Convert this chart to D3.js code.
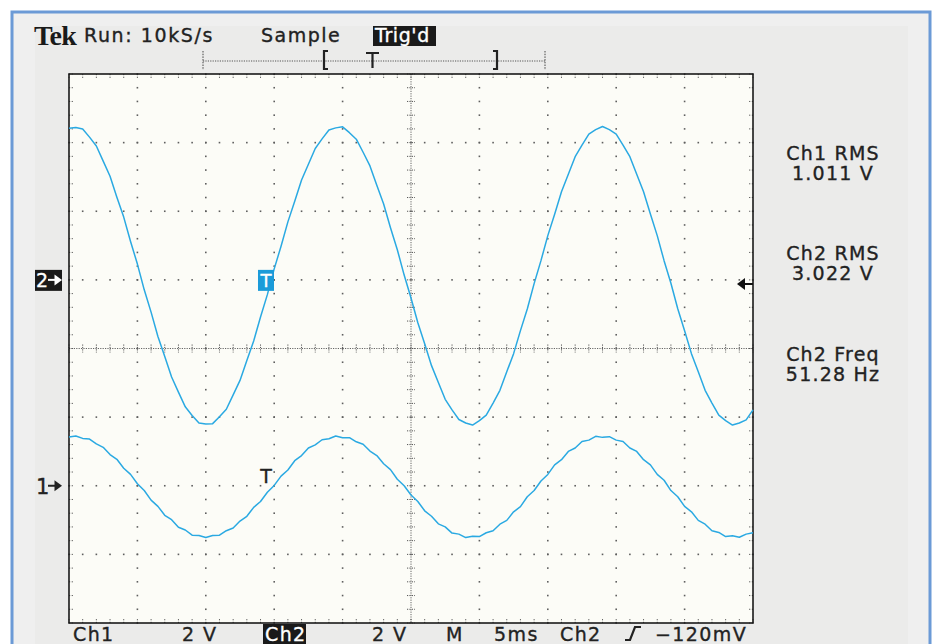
<!DOCTYPE html>
<html>
<head>
<meta charset="utf-8">
<script src="https://cdn.jsdelivr.net/npm/d3@7"></script>
<style>
  html, body { margin: 0; padding: 0; background: #ffffff; }
  svg { display: block; }
  text { font-family: "DejaVu Sans", Verdana, sans-serif; fill: #222; stroke: #222; stroke-width: 0.35px; }
  text.inv { fill: #fff; stroke: #fff; }
</style>
</head>
<body>
<svg width="936" height="644"></svg>
<script>
// ---------------------------------------------------------
// Scope settings and readouts
const msPerDiv = 5;
const voltsPerDiv = 2;
const sampleStepMs = 0.5;
const ch1GroundDiv = -2;
const ch2GroundDiv = 1;
const trigLevelV = -0.12;
const trigTimeMs = 14.4;

// ---------------------------------------------------------
// Traces (volts, one value every 0.5 ms)
const ch2Volts = [
  4.42, 4.44, 4.40, 4.16, 3.90, 3.46, 3.02, 2.41, 1.83, 1.12,
  0.46, -0.29, -0.94, -1.65, -2.23, -2.83, -3.27, -3.70, -3.95, -4.17,
  -4.20, -4.19, -3.99, -3.77, -3.35, -2.93, -2.35, -1.78, -1.08, -0.43,
  0.32, 0.98, 1.69, 2.29, 2.91, 3.37, 3.83, 4.11, 4.37, 4.43,
  4.46, 4.29, 4.10, 3.72, 3.32, 2.76, 2.21, 1.52, 0.88, 0.14,
  -0.53, -1.25, -1.86, -2.50, -2.99, -3.48, -3.79, -4.07, -4.17, -4.23,
  -4.10, -3.94, -3.59, -3.22, -2.68, -2.15, -1.48, -0.85, -0.11, 0.56,
  1.29, 1.91, 2.57, 3.08, 3.59, 3.93, 4.25, 4.38, 4.47, 4.38,
  4.25, 3.93, 3.59, 3.08, 2.57, 1.92, 1.29, 0.56, -0.10, -0.84,
  -1.48, -2.15, -2.68, -3.22, -3.59, -3.94, -4.10, -4.23, -4.17, -4.08,
  -3.79
];
const ch1Volts = [
  1.42, 1.45, 1.38, 1.36, 1.22, 1.12, 0.91, 0.77, 0.51, 0.33,
  0.06, -0.14, -0.42, -0.60, -0.86, -0.99, -1.21, -1.29, -1.44, -1.45,
  -1.51, -1.45, -1.44, -1.31, -1.23, -1.03, -0.89, -0.63, -0.46, -0.19,
  0.01, 0.28, 0.46, 0.73, 0.88, 1.10, 1.19, 1.34, 1.37, 1.45,
  1.40, 1.40, 1.28, 1.21, 1.01, 0.88, 0.64, 0.47, 0.19, 0.00,
  -0.27, -0.46, -0.73, -0.89, -1.11, -1.20, -1.38, -1.41, -1.51, -1.47,
  -1.48, -1.37, -1.31, -1.12, -1.01, -0.76, -0.61, -0.32, -0.14, 0.14,
  0.33, 0.61, 0.76, 1.00, 1.10, 1.29, 1.33, 1.44, 1.41, 1.43,
  1.33, 1.29, 1.10, 1.00, 0.76, 0.61, 0.33, 0.16, -0.14, -0.32,
  -0.60, -0.76, -1.01, -1.12, -1.31, -1.36, -1.48, -1.46, -1.50, -1.41,
  -1.37
];

const readoutTitles = ['Ch1 RMS', 'Ch2 RMS', 'Ch2 Freq'];
const readoutValues = ['1.011 V', '3.022 V', '51.28 Hz'];
const headerLabels = ['Run: 10kS/s', 'Sample', "Trig'd"];
const bottomLabels = ['Ch1', '2 V', 'Ch2', '2 V', 'M', '5ms', 'Ch2', '\u2212120mV'];

// ---------------------------------------------------------
// Canvas and scales
const svg = d3.select('svg');
const grat = { left: 69, right: 753, top: 74, bottom: 623 };

const xScale = d3.scaleLinear().domain([0, 10 * msPerDiv]).range([grat.left, grat.right]);
const yDiv = d3.scaleLinear().domain([-4, 4]).range([grat.bottom, grat.top]);
const yCh = (ground) => (v) => yDiv(v / voltsPerDiv + ground);
const yCh1 = yCh(ch1GroundDiv);
const yCh2 = yCh(ch2GroundDiv);

// ---------------------------------------------------------
// Frame
svg.append('rect').attr('x', 12).attr('y', 12).attr('width', 918).attr('height', 640)
  .attr('fill', '#efefef').attr('stroke', '#6b9ad6').attr('stroke-width', 3);
svg.append('rect').attr('x', 35).attr('y', 26).attr('width', 873).attr('height', 630)
  .attr('fill', '#ebebea');

svg.append('rect')
  .attr('x', grat.left).attr('y', grat.top)
  .attr('width', grat.right - grat.left).attr('height', grat.bottom - grat.top)
  .attr('fill', '#fcfcf7');

// ---------------------------------------------------------
// Graticule
const minorT = d3.range(0, 10 * msPerDiv + 0.001, msPerDiv / 5);
const majorT = d3.range(msPerDiv, 10 * msPerDiv, msPerDiv);
const minorD = d3.range(-4, 4.001, 0.2);
const majorD = d3.range(-3, 4, 1);
const grid = svg.append('g').attr('id', 'graticule');
const dotColor = '#5e5e5e';

// dots along the division lines
majorT.filter((t) => t !== 5 * msPerDiv).forEach((t) => {
  grid.append('g').selectAll('rect').data(minorD).join('rect')
    .attr('x', xScale(t) - 0.8).attr('y', (d) => yDiv(d) - 0.8)
    .attr('width', 1.6).attr('height', 1.6).attr('fill', dotColor);
});
majorD.filter((d) => d !== 0).forEach((d) => {
  grid.append('g').selectAll('rect').data(minorT).join('rect')
    .attr('x', (t) => xScale(t) - 0.8).attr('y', yDiv(d) - 0.8)
    .attr('width', 1.6).attr('height', 1.6).attr('fill', dotColor);
});

// center cross with ticks
grid.append('line')
  .attr('x1', grat.left).attr('x2', grat.right).attr('y1', yDiv(0)).attr('y2', yDiv(0))
  .attr('stroke', '#666').attr('stroke-dasharray', '1.2,1.2');
grid.append('line')
  .attr('x1', xScale(25)).attr('x2', xScale(25)).attr('y1', grat.top).attr('y2', grat.bottom)
  .attr('stroke', '#666').attr('stroke-dasharray', '1.2,1.2');
grid.append('g').selectAll('line').data(minorT).join('line')
  .attr('x1', (t) => xScale(t)).attr('x2', (t) => xScale(t))
  .attr('y1', yDiv(0) - 4).attr('y2', yDiv(0) + 4)
  .attr('stroke', '#555').attr('stroke-dasharray', '1.2,1.2');
grid.append('g').selectAll('line').data(minorD).join('line')
  .attr('y1', (d) => yDiv(d)).attr('y2', (d) => yDiv(d))
  .attr('x1', xScale(25) - 4).attr('x2', xScale(25) + 4)
  .attr('stroke', '#555').attr('stroke-dasharray', '1.2,1.2');

// ticks along the edges
const edgeTick = (data, attrs) => {
  grid.append('g').selectAll('line').data(data).join('line')
    .each(function (d) {
      const sel = d3.select(this);
      Object.entries(attrs(d)).forEach(([k, v]) => sel.attr(k, v));
    })
    .attr('stroke', '#555').attr('stroke-dasharray', '1.2,1.5');
};
edgeTick(minorT, (t) => ({ x1: xScale(t), x2: xScale(t), y1: grat.top, y2: grat.top + 5 }));
edgeTick(minorT, (t) => ({ x1: xScale(t), x2: xScale(t), y1: grat.bottom, y2: grat.bottom - 5 }));
edgeTick(minorD, (d) => ({ y1: yDiv(d), y2: yDiv(d), x1: grat.left, x2: grat.left + 5 }));
edgeTick(minorD, (d) => ({ y1: yDiv(d), y2: yDiv(d), x1: grat.right, x2: grat.right - 5 }));

// graticule border
svg.append('rect')
  .attr('x', grat.left).attr('y', grat.top)
  .attr('width', grat.right - grat.left).attr('height', grat.bottom - grat.top)
  .attr('fill', 'none').attr('stroke', '#1a1a1a').attr('stroke-width', 1.6);

// ---------------------------------------------------------
// Traces
const traceColor = '#2aa9e2';
const line = (yFn) => d3.line()
  .x((d, i) => xScale(i * sampleStepMs))
  .y((d) => yFn(d));

svg.append('path').datum(ch2Volts)
  .attr('d', line(yCh2)).attr('fill', 'none')
  .attr('stroke', traceColor).attr('stroke-width', 1.5).attr('stroke-linejoin', 'round');
svg.append('path').datum(ch1Volts)
  .attr('d', line(yCh1)).attr('fill', 'none')
  .attr('stroke', traceColor).attr('stroke-width', 1.5).attr('stroke-linejoin', 'round');

// trigger point markers
const tx = xScale(trigTimeMs);
svg.append('rect').attr('x', tx - 8).attr('y', yCh2(0) - 10).attr('width', 16).attr('height', 21)
  .attr('fill', '#1b9bd9');
svg.append('text').attr('class', 'inv').attr('x', tx).attr('y', yCh2(0) + 7)
  .attr('text-anchor', 'middle').style('font-size', '18px').text('T');
svg.append('text').attr('x', tx).attr('y', yCh1(0) - 3).attr('text-anchor', 'middle')
  .style('font-size', '19px').text('T');

// trigger level arrow
const ty = yCh2(trigLevelV);
svg.append('path')
  .attr('d', `M${grat.right - 16},${ty} L${grat.right - 8},${ty - 6} L${grat.right - 8},${ty + 6} Z`)
  .attr('fill', '#111');
svg.append('line').attr('x1', grat.right - 9).attr('x2', grat.right).attr('y1', ty).attr('y2', ty)
  .attr('stroke', '#111').attr('stroke-width', 2);

// ground markers
const groundArrow = (y, color) => {
  svg.append('line').attr('x1', 48).attr('x2', 56).attr('y1', y).attr('y2', y)
    .attr('stroke', color).attr('stroke-width', 2);
  svg.append('path').attr('d', `M62,${y} L54.5,${y - 5.5} L54.5,${y + 5.5} Z`).attr('fill', color);
};
svg.append('rect').attr('x', 35).attr('y', yCh2(0) - 10).attr('width', 27).attr('height', 21)
  .attr('fill', '#1a1a1a');
svg.append('text').attr('class', 'inv').attr('x', 36).attr('y', yCh2(0) + 7)
  .style('font-size', '19px').text('2');
groundArrow(yCh2(0), '#fff');
svg.append('text').attr('x', 36).attr('y', yCh1(0) + 8).style('font-size', '21px').text('1');
groundArrow(yCh1(0), '#222');

// ---------------------------------------------------------
// Header
svg.append('text').attr('x', 34).attr('y', 45)
  .style('font-family', '"Liberation Serif", serif').style('font-weight', 'bold')
  .style('font-size', '28px').style('letter-spacing', '-0.6px')
  .style('fill', '#1a1a1a').style('stroke', 'none')
  .text('Tek');
svg.append('text').attr('x', 84).attr('y', 42).style('font-size', '19px')
  .style('letter-spacing', '1.6px').text(headerLabels[0]);
svg.append('text').attr('x', 261).attr('y', 42).style('font-size', '19px')
  .style('letter-spacing', '1.5px').text(headerLabels[1]);
svg.append('rect').attr('x', 373).attr('y', 26).attr('width', 63).attr('height', 20)
  .attr('fill', '#1a1a1a');
svg.append('text').attr('class', 'inv').attr('x', 375).attr('y', 42).style('font-size', '19px')
  .style('letter-spacing', '0.6px').text(headerLabels[2]);

// record / trigger position bar
const bar = svg.append('g');
bar.append('line').attr('x1', 203).attr('x2', 545).attr('y1', 61).attr('y2', 61)
  .attr('stroke', '#555').attr('stroke-dasharray', '1.2,1.2');
[203, 545].forEach((x) => {
  bar.append('line').attr('x1', x).attr('x2', x).attr('y1', 51).attr('y2', 70)
    .attr('stroke', '#444').attr('stroke-dasharray', '1.5,1.2');
});
bar.append('path').attr('d', 'M328,51 L324,51 L324,69 L328,69')
  .attr('fill', 'none').attr('stroke', '#222').attr('stroke-width', 2.2);
bar.append('path').attr('d', 'M493,51 L497,51 L497,69 L493,69')
  .attr('fill', 'none').attr('stroke', '#222').attr('stroke-width', 2.2);
bar.append('path').attr('d', 'M366,53 L379,53 M372.5,53 L372.5,68')
  .attr('fill', 'none').attr('stroke', '#222').attr('stroke-width', 2.2);

// ---------------------------------------------------------
// Right side readouts
const readY = [160, 260, 361];
readoutTitles.forEach((t, i) => {
  svg.append('text').attr('x', 833).attr('y', readY[i]).attr('text-anchor', 'middle')
    .style('font-size', '19px').style('letter-spacing', '1.2px').text(t);
  svg.append('text').attr('x', 833).attr('y', readY[i] + 20).attr('text-anchor', 'middle')
    .style('font-size', '19px').style('letter-spacing', '1.2px').text(readoutValues[i]);
});

// ---------------------------------------------------------
// Bottom status line
const bottomX = [73, 182, 265, 372, 446, 494, 560, 655];
svg.append('rect').attr('x', 263).attr('y', 624).attr('width', 43).attr('height', 20)
  .attr('fill', '#1a1a1a');
bottomLabels.forEach((t, i) => {
  svg.append('text').attr('class', i === 2 ? 'inv' : null)
    .attr('x', bottomX[i]).attr('y', 641)
    .style('font-size', '19px').style('letter-spacing', '1.4px').text(t);
});
// rising edge symbol
svg.append('path').attr('d', 'M625,640 L630,640 L635,627 L641,627')
  .attr('fill', 'none').attr('stroke', '#222').attr('stroke-width', 2.2);
</script>
</body>
</html>
